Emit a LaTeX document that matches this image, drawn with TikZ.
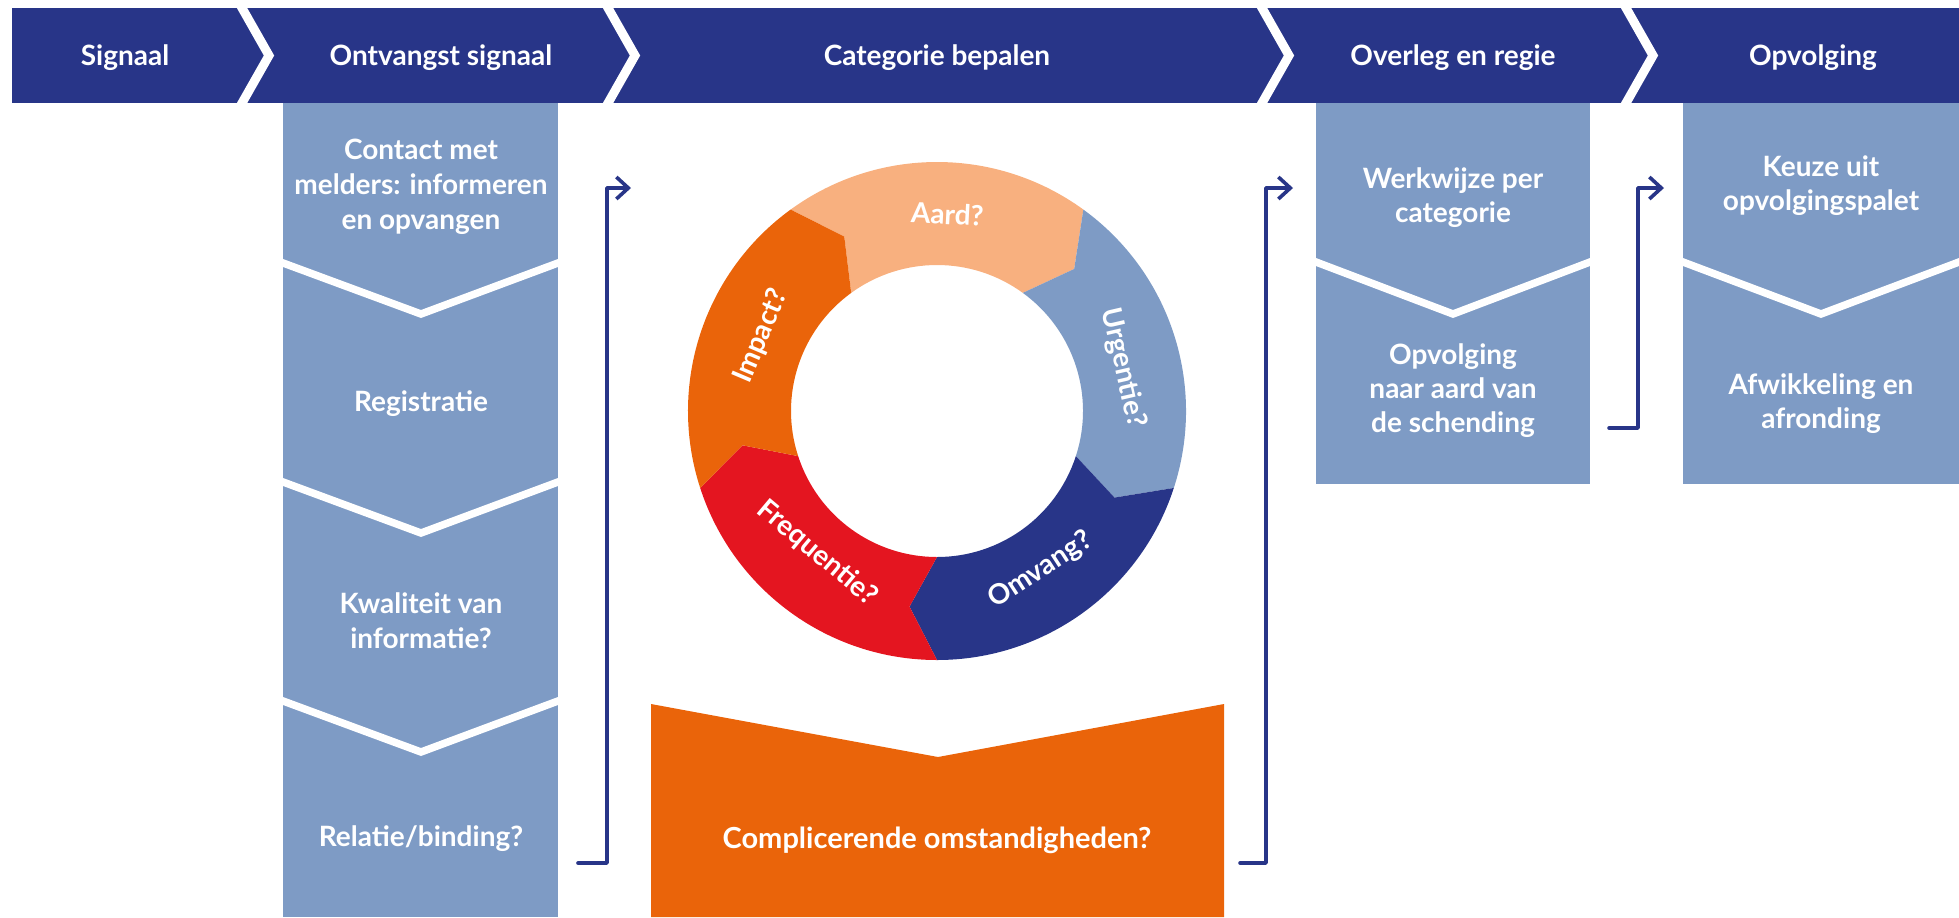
\documentclass[tikz,border=0pt]{standalone}
\usepackage{fontspec}
\setmainfont{Lato}
\usetikzlibrary{arrows.meta}

\definecolor{donkerblauw}{HTML}{283588}
\definecolor{lichtblauw}{HTML}{7E9BC5}
\definecolor{perzik}{HTML}{F8B07F}
\definecolor{oranje}{HTML}{EA640A}
\definecolor{rood}{HTML}{E41520}

\tikzset{
  kop/.style={text=white, inner sep=0pt, font=\bfseries\fontsize{14}{16}\selectfont},
  tekst/.style={text=white, align=center, inner sep=0pt, font=\bfseries\fontsize{14}{17.5}\selectfont},
  smaltekst/.style={text=white, align=center, inner sep=0pt, font=\bfseries\fontsize{14}{17}\selectfont},
  ringtekst/.style={text=white, inner sep=0pt, font=\bfseries\fontsize{14}{16}\selectfont},
  knik/.style={white, line width=4.5pt},
  vouw/.style={white, line width=3.75pt},
  pijl/.style={donkerblauw, line width=1.8pt, line cap=round, line join=round,
    -{Straight Barb[length=6pt,width=11pt]}},
}

\begin{document}
\begin{tikzpicture}[x=0.5pt,y=-0.5pt]
    \useasboundingbox (0,0) rectangle (1959,917);

    % kopbalk met fasen
    \fill[donkerblauw] (12,8) rectangle (1959,103);
    \foreach \d in {242,608,1262,1626}
        \draw[knik] (\d-4.5,0) -- (\d+27,55.5) -- (\d-4.5,111);

    \node[kop] (signaal) at (125,58) {Signaal};
    \node[kop] (ontvangst) at (441,58) {Ontvangst signaal};
    \node[kop] (categorie) at (937,58) {Categorie bepalen};
    \node[kop] (overleg) at (1453,58) {Overleg en regie};
    \node[kop] (opvolging) at (1813,58) {Opvolging};

    % kolommen
    \fill[lichtblauw] (283,103) rectangle (558,917);
    \fill[lichtblauw] (1316,103) rectangle (1590,484);
    \fill[lichtblauw] (1683,103) rectangle (1959,484);
    \foreach \y in {263,482,701}
        \draw[vouw] (279,\y-1.5) -- (421,\y+51) -- (562,\y-1.5);
    \draw[vouw] (1312,260.5) -- (1453,314) -- (1594,260.5);
    \draw[vouw] (1679,260.5) -- (1821,314) -- (1963,260.5);

    \node[tekst] (contact) at (421,187) {Contact met\\melders: informeren\\en opvangen};
    \node[tekst] (registratie) at (421,404) {Registratie};
    \node[tekst] (kwaliteit) at (421,621) {Kwaliteit van\\informatie?};
    \node[tekst] (relatie) at (421,839) {Relatie/binding?};

    \node[smaltekst] (werkwijze) at (1453,198) {Werkwijze per\\categorie};
    \node[smaltekst] (naaraard) at (1453,391) {Opvolging\\naar aard van\\de schending};
    \node[smaltekst] (keuze) at (1821,186) {Keuze uit\\opvolgingspalet};
    \node[smaltekst] (afwikkeling) at (1821,404) {Afwikkeling en\\afronding};

    % ring met vragen
    \begin{scope}[shift={(937,411)}, yscale=-1]
        \foreach \a/\kleur in {126/perzik, 54/lichtblauw, -18/donkerblauw, -90/rood, -162/oranje}
            \fill[\kleur] (\a:249) arc[start angle=\a, end angle=\a-72, radius=249]
                -- ({\a-80}:197.5) -- ({\a-72}:146)
                arc[start angle=\a-72, end angle=\a, radius=146]
                -- ({\a-8}:197.5) -- cycle;
        \node[ringtekst, rotate=-3] (aard) at (87:197) {Aard?};
        \node[ringtekst, rotate=-77] (urgentie) at (13:191) {Urgentie?};
        \node[ringtekst, rotate=33] (omvang) at (-57:190) {Omvang?};
        \node[ringtekst, rotate=-40] (frequentie) at (-130:186) {Frequentie?};
        \node[ringtekst, rotate=67] (impact) at (157:191) {Impact?};
    \end{scope}

    % complicerende omstandigheden
    \fill[oranje] (651,704) -- (938,757) -- (1224,704) -- (1224,917) -- (651,917) -- cycle;
    \node[tekst, font=\bfseries\fontsize{14.5}{17.5}\selectfont] (compl) at (937,840) {Complicerende omstandigheden?};

    % verbindingen
    \coordinate (p1a) at (578,863);
    \coordinate (p1e) at (631,188);
    \coordinate (p2a) at (1240,863);
    \coordinate (p2e) at (1293,188);
    \coordinate (p3a) at (1609,428);
    \coordinate (p3e) at (1664,188);
    \draw[pijl] (p1a) -- ++(29,0) |- (p1e);
    \draw[pijl] (p2a) -- ++(26,0) |- (p2e);
    \draw[pijl] (p3a) -- ++(29,0) |- (p3e);
\end{tikzpicture}
\end{document}
